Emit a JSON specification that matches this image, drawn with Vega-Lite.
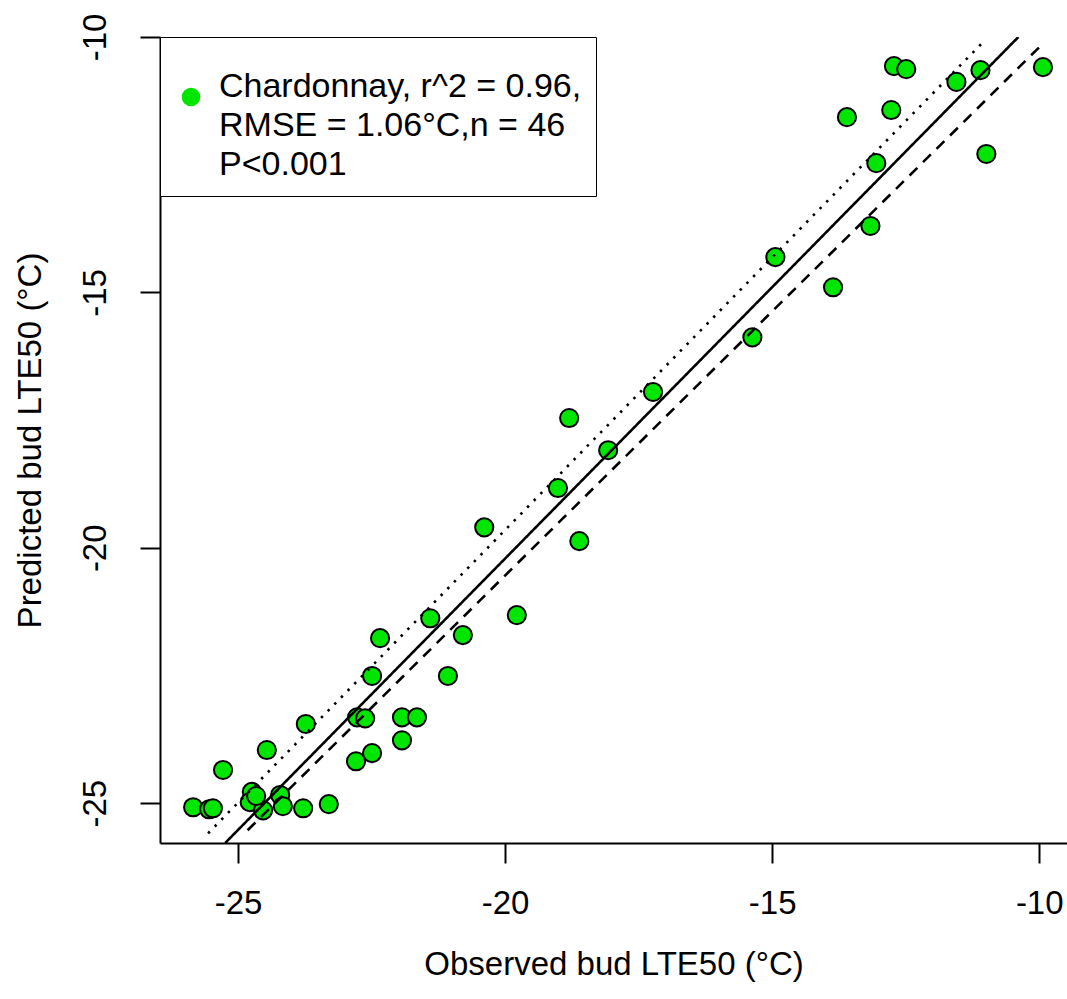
{
  "$schema": "https://vega.github.io/schema/vega-lite/v6.json",
  "width": 907,
  "height": 806,
  "autosize": {"type": "none"},
  "padding": {"left": 160, "top": 37, "right": 0, "bottom": 156},
  "background": "white",
  "config": {
    "view": {"stroke": null},
    "font": "Liberation Sans",
    "axis": {
      "grid": false,
      "domainColor": "black",
      "domainWidth": 2,
      "tickColor": "black",
      "tickWidth": 2,
      "tickSize": 20,
      "labelFont": "Liberation Sans",
      "labelFontSize": 33,
      "labelColor": "black",
      "labelOverlap": false,
      "titleFont": "Liberation Sans",
      "titleFontSize": 33,
      "titleFontWeight": "normal",
      "titleColor": "black"
    },
    "style": {"guide-label": {"lineHeight": 39}}
  },
  "datasets": {
    "points": [
      {"cultivar": "Chardonnay", "observed": -12.72, "predicted": -10.57},
      {"cultivar": "Chardonnay", "observed": -12.49, "predicted": -10.63},
      {"cultivar": "Chardonnay", "observed": -9.93, "predicted": -10.59},
      {"cultivar": "Chardonnay", "observed": -11.55, "predicted": -10.88},
      {"cultivar": "Chardonnay", "observed": -11.10, "predicted": -10.65},
      {"cultivar": "Chardonnay", "observed": -13.60, "predicted": -11.57},
      {"cultivar": "Chardonnay", "observed": -12.77, "predicted": -11.43},
      {"cultivar": "Chardonnay", "observed": -13.05, "predicted": -12.47},
      {"cultivar": "Chardonnay", "observed": -10.99, "predicted": -12.29},
      {"cultivar": "Chardonnay", "observed": -13.16, "predicted": -13.70},
      {"cultivar": "Chardonnay", "observed": -14.94, "predicted": -14.31},
      {"cultivar": "Chardonnay", "observed": -13.86, "predicted": -14.90},
      {"cultivar": "Chardonnay", "observed": -15.37, "predicted": -15.88},
      {"cultivar": "Chardonnay", "observed": -17.23, "predicted": -16.95},
      {"cultivar": "Chardonnay", "observed": -18.80, "predicted": -17.46},
      {"cultivar": "Chardonnay", "observed": -18.07, "predicted": -18.09},
      {"cultivar": "Chardonnay", "observed": -19.01, "predicted": -18.83},
      {"cultivar": "Chardonnay", "observed": -20.39, "predicted": -19.60},
      {"cultivar": "Chardonnay", "observed": -18.61, "predicted": -19.87},
      {"cultivar": "Chardonnay", "observed": -21.40, "predicted": -21.38},
      {"cultivar": "Chardonnay", "observed": -19.78, "predicted": -21.32},
      {"cultivar": "Chardonnay", "observed": -22.34, "predicted": -21.77},
      {"cultivar": "Chardonnay", "observed": -20.79, "predicted": -21.71},
      {"cultivar": "Chardonnay", "observed": -22.49, "predicted": -22.51},
      {"cultivar": "Chardonnay", "observed": -21.07, "predicted": -22.51},
      {"cultivar": "Chardonnay", "observed": -23.73, "predicted": -23.45},
      {"cultivar": "Chardonnay", "observed": -22.77, "predicted": -23.32},
      {"cultivar": "Chardonnay", "observed": -22.62, "predicted": -23.34},
      {"cultivar": "Chardonnay", "observed": -21.93, "predicted": -23.32},
      {"cultivar": "Chardonnay", "observed": -21.65, "predicted": -23.32},
      {"cultivar": "Chardonnay", "observed": -21.93, "predicted": -23.77},
      {"cultivar": "Chardonnay", "observed": -24.46, "predicted": -23.96},
      {"cultivar": "Chardonnay", "observed": -22.79, "predicted": -24.18},
      {"cultivar": "Chardonnay", "observed": -22.49, "predicted": -24.02},
      {"cultivar": "Chardonnay", "observed": -25.28, "predicted": -24.35},
      {"cultivar": "Chardonnay", "observed": -24.74, "predicted": -24.78},
      {"cultivar": "Chardonnay", "observed": -24.78, "predicted": -24.98},
      {"cultivar": "Chardonnay", "observed": -25.84, "predicted": -25.08},
      {"cultivar": "Chardonnay", "observed": -25.54, "predicted": -25.12},
      {"cultivar": "Chardonnay", "observed": -25.47, "predicted": -25.10},
      {"cultivar": "Chardonnay", "observed": -24.53, "predicted": -25.14},
      {"cultivar": "Chardonnay", "observed": -24.21, "predicted": -24.84},
      {"cultivar": "Chardonnay", "observed": -24.16, "predicted": -25.06},
      {"cultivar": "Chardonnay", "observed": -23.78, "predicted": -25.10},
      {"cultivar": "Chardonnay", "observed": -23.30, "predicted": -25.02},
      {"cultivar": "Chardonnay", "observed": -24.66, "predicted": -24.86}
    ],
    "lines": [
      {"line": "fit", "observed": -25.24, "predicted": -25.78},
      {"line": "fit", "observed": -10.39, "predicted": -10.0},
      {"line": "upper", "observed": -25.56, "predicted": -25.59},
      {"line": "upper", "observed": -11.07, "predicted": -10.12},
      {"line": "lower", "observed": -24.82, "predicted": -25.53},
      {"line": "lower", "observed": -9.98, "predicted": -10.18}
    ]
  },
  "encoding": {
    "x": {
      "field": "observed",
      "type": "quantitative",
      "scale": {"domain": [-26.46, -9.48], "nice": false, "zero": false},
      "axis": {
        "title": "Observed bud LTE50 (°C)",
        "values": [-25, -20, -15, -10],
        "labelExpr": "'' + datum.value",
        "labelPadding": 24,
        "titlePadding": 28
      }
    },
    "y": {
      "field": "predicted",
      "type": "quantitative",
      "scale": {"domain": [-25.78, -10.0], "nice": false, "zero": false},
      "axis": {
        "title": "Predicted bud LTE50 (°C)",
        "values": [-25, -20, -15, -10],
        "labelExpr": "'' + datum.value",
        "labelAngle": -90,
        "labelAlign": "center",
        "labelBaseline": "bottom",
        "labelPadding": 28,
        "titlePadding": 32
      }
    }
  },
  "layer": [
    {
      "data": {"name": "points"},
      "mark": {"type": "point", "filled": true, "shape": "circle", "size": 330, "stroke": "black", "strokeWidth": 2, "opacity": 1},
      "encoding": {
        "fill": {
          "field": "cultivar",
          "type": "nominal",
          "scale": {"range": ["#00e600"]},
          "legend": {
            "title": " ",
            "titleFontSize": 1,
            "titlePadding": 28,
            "orient": "none",
            "legendX": 0,
            "legendY": 0,
            "padding": 14,
            "strokeColor": "black",
            "fillColor": "white",
            "symbolType": "circle",
            "symbolSize": 346,
            "symbolStrokeWidth": 0,
            "labelFont": "Liberation Sans",
            "labelFontSize": 34,
            "labelColor": "black",
            "labelLimit": 600,
            "labelOffset": 11,
            "labelBaseline": "alphabetic",
            "labelExpr": "split('Chardonnay, r^2 = 0.96,|RMSE = 1.06°C,n = 46|P<0.001', '|')"
          }
        }
      }
    },
    {
      "data": {"name": "lines"},
      "mark": {"type": "line", "color": "black", "strokeWidth": 2.6, "clip": true},
      "encoding": {
        "strokeDash": {
          "field": "line",
          "type": "nominal",
          "scale": {"domain": ["fit", "upper", "lower"], "range": [[1, 0], [2.5, 7], [11, 8]]},
          "legend": null
        }
      }
    }
  ]
}
